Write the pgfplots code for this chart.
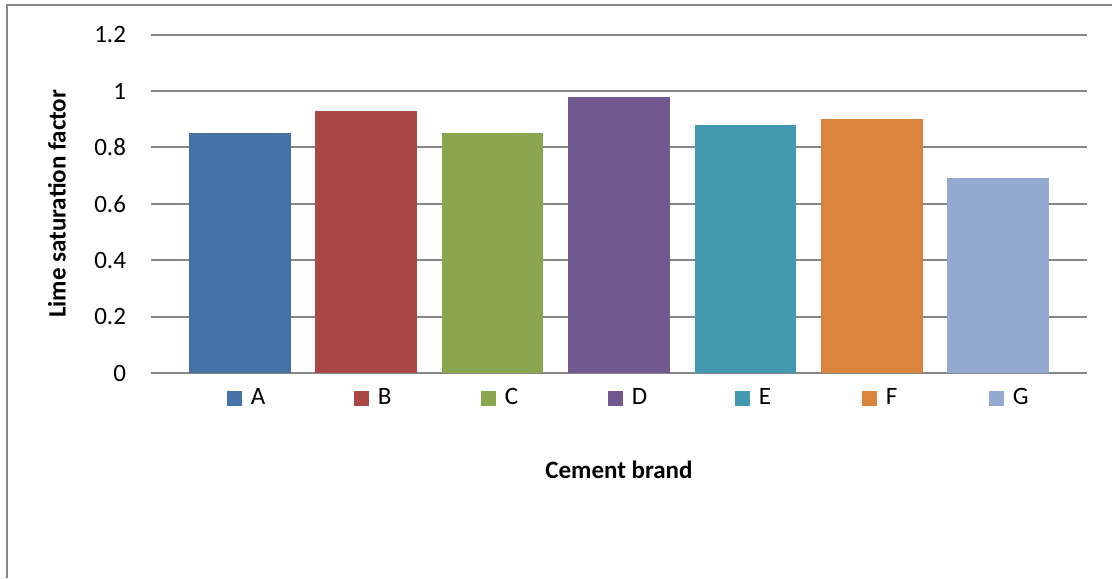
\documentclass[border=0pt]{standalone}
\usepackage{fontspec}
\setmainfont{Carlito}
\usepackage{pgfplots}
\pgfplotsset{compat=1.18}

\definecolor{gridgray}{RGB}{134,134,134}
\definecolor{cA}{RGB}{69,114,167}
\definecolor{cB}{RGB}{170,70,67}
\definecolor{cC}{RGB}{137,165,78}
\definecolor{cD}{RGB}{113,88,143}
\definecolor{cE}{RGB}{65,152,175}
\definecolor{cF}{RGB}{219,132,61}
\definecolor{cG}{RGB}{147,169,207}

\newcommand{\fs}{\fontsize{12.5pt}{15pt}\selectfont}
\newcommand{\legbox}[1]{\makebox[52pt][l]{\hspace{2.5pt}#1}}

\begin{document}
\begin{tikzpicture}
  \useasboundingbox (0,0) rectangle (556pt,289pt);
  % chart frame
  \draw[gridgray, line width=1pt] (3.5pt,0) -- (3.5pt,286.5pt) -- (556pt,286.5pt);

  \begin{axis}[
    at={(75.5pt,102.5pt)}, anchor=south west,
    scale only axis,
    width=468pt, height=169.15pt,
    ybar, bar shift=0pt, bar width=0.806,
    xmin=-0.7, xmax=6.7,
    ymin=0, ymax=1.2,
    ytick={0,0.2,...,1.2},
    yticklabels={0,0.2,0.4,0.6,0.8,1,1.2},
    xtick=\empty,
    major tick length=0pt,
    axis x line*=bottom,
    axis y line*=left,
    x axis line style={gridgray, line width=1pt, -},
    y axis line style={draw=none},
    ymajorgrids,
    grid style={gridgray, line width=1pt},
    /pgf/number format/assume math mode=true,
    tick label style={font=\fs},
    yticklabel style={xshift=-9pt},
    xlabel={Cement brand},
    ylabel={Lime saturation factor},
    label style={font=\bfseries\fs},
    xlabel style={at={(axis description cs:0.5,-0.2867)}, anchor=center},
    ylabel style={at={(axis description cs:-0.1004,0.5)}, anchor=center},
    legend columns=7,
    legend style={draw=none, font=\fs, at={(axis description cs:0.5560,-0.0739)},
      anchor=center, column sep=0pt},
    legend image code/.code={\fill[#1] (0pt,-3.75pt) rectangle (7.5pt,3.75pt);},
  ]
    \addplot[draw=none, fill=cA] coordinates {(0,0.85)};
    \addplot[draw=none, fill=cB] coordinates {(1,0.93)};
    \addplot[draw=none, fill=cC] coordinates {(2,0.85)};
    \addplot[draw=none, fill=cD] coordinates {(3,0.98)};
    \addplot[draw=none, fill=cE] coordinates {(4,0.88)};
    \addplot[draw=none, fill=cF] coordinates {(5,0.90)};
    \addplot[draw=none, fill=cG] coordinates {(6,0.69)};
    \legend{\legbox{A},\legbox{B},\legbox{C},\legbox{D},\legbox{E},\legbox{F},\legbox{G}}
  \end{axis}
\end{tikzpicture}
\end{document}
